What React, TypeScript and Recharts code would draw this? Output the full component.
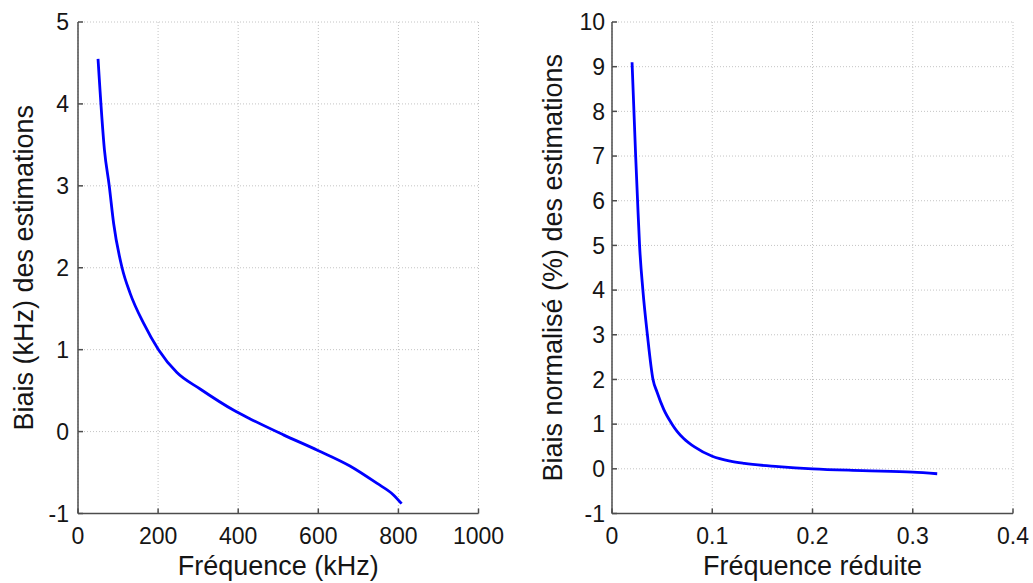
import { CartesianGrid, Label, Line, LineChart, XAxis, YAxis } from 'recharts';

// panneau gauche : biais en kHz
const freqKhz = [50, 66, 78, 89, 110, 130, 164, 201, 247, 305, 389, 430, 513, 599, 679, 746, 787, 808];
const biasKhz = [4.55, 3.44, 3.0, 2.54, 2.0, 1.69, 1.32, 1.0, 0.72, 0.52, 0.26, 0.155, -0.04, -0.23, -0.42, -0.63, -0.77, -0.88];

// panneau droit : biais normalisé (%)
const freqReduite = [0.02, 0.0236, 0.0255, 0.0275, 0.0308, 0.0353, 0.0409, 0.0449, 0.0516, 0.0599, 0.0649, 0.0715, 0.0823, 0.1, 0.118, 0.132, 0.166, 0.2, 0.25, 0.3, 0.3244];
const biasNorm = [9.1, 7.0, 6.0, 5.0, 4.0, 3.0, 2.0, 1.72, 1.33, 1.0, 0.84, 0.68, 0.49, 0.28, 0.17, 0.12, 0.05, 0.0, -0.04, -0.075, -0.11];

const xTicksLeft = [0, 200, 400, 600, 800, 1000];
const yTicksLeft = [-1, 0, 1, 2, 3, 4, 5];
const xTicksRight = [0, 0.1, 0.2, 0.3, 0.4];
const yTicksRight = [-1, 0, 1, 2, 3, 4, 5, 6, 7, 8, 9, 10];

const FONT = '"Liberation Sans", Arial, sans-serif';
const AXIS = '#4d4d4d';
const TEXT = '#151515';

function XTick({ x, y, payload }: any) {
  return (
    <g>
      <line x1={x} y1={y} x2={x} y2={y - 5} stroke={AXIS} strokeWidth={1.5} />
      <text x={x} y={y + 30} textAnchor="middle" fontSize={23} fontFamily={FONT} fill={TEXT}>
        {payload.value}
      </text>
    </g>
  );
}

function makeYTick(gap: number) {
  return function YTick({ x, y, payload }: any) {
    return (
      <g>
        <line x1={x} y1={y} x2={x + 5} y2={y} stroke={AXIS} strokeWidth={1.5} />
        <text x={x - gap} y={y} dy="0.36em" textAnchor="end" fontSize={23} fontFamily={FONT} fill={TEXT}>
          {payload.value}
        </text>
      </g>
    );
  };
}

interface PanelProps {
  xs: number[];
  ys: number[];
  xTicks: number[];
  yTicks: number[];
  xTitle: string;
  yTitle: string;
  width: number;
  axisWidth: number;
  rightMargin: number;
  tickGap: number;
  titleOffset: number;
}

function Panel({ xs, ys, xTicks, yTicks, xTitle, yTitle, width, axisWidth, rightMargin, tickGap, titleOffset }: PanelProps) {
  const data = xs.map((x, i) => ({ x, y: ys[i] }));
  return (
    <LineChart width={width} height={583} data={data} margin={{ top: 22, right: rightMargin, bottom: 0, left: 0 }}>
      <CartesianGrid stroke="#c4c4c4" strokeDasharray="1 2" />
      <XAxis
        type="number"
        dataKey="x"
        domain={[xTicks[0], xTicks[xTicks.length - 1]]}
        ticks={xTicks}
        height={69.5}
        tickSize={0}
        tickMargin={0}
        tick={<XTick />}
        axisLine={{ stroke: AXIS, strokeWidth: 1.5 }}
        interval={0}
      >
        <Label value={xTitle} position="insideBottom" offset={8} style={{ fontSize: 27, fontFamily: FONT, fill: TEXT }} />
      </XAxis>
      <YAxis
        type="number"
        domain={[yTicks[0], yTicks[yTicks.length - 1]]}
        ticks={yTicks}
        width={axisWidth}
        tickSize={0}
        tickMargin={0}
        tick={makeYTick(tickGap)}
        axisLine={{ stroke: AXIS, strokeWidth: 1.5 }}
        interval={0}
      >
        <Label
          value={yTitle}
          angle={-90}
          position="insideLeft"
          offset={titleOffset}
          style={{ textAnchor: 'middle', fontSize: 27, fontFamily: FONT, fill: TEXT }}
        />
      </YAxis>
      <Line type="monotone" dataKey="y" stroke="#0000ff" strokeWidth={2.8} dot={false} isAnimationActive={false} />
    </LineChart>
  );
}

export default function App() {
  return (
    <div style={{ position: 'absolute', top: 0, left: 0, width: 1033, height: 583, background: '#fff' }}>
      <div style={{ position: 'absolute', left: 0, top: 0 }}>
        <Panel
          xs={freqKhz}
          ys={biasKhz}
          xTicks={xTicksLeft}
          yTicks={yTicksLeft}
          xTitle="Fréquence (kHz)"
          yTitle="Biais (kHz) des estimations"
          width={530}
          axisWidth={78}
          rightMargin={51.5}
          tickGap={9}
          titleOffset={23}
        />
      </div>
      <div style={{ position: 'absolute', left: 530, top: 0 }}>
        <Panel
          xs={freqReduite}
          ys={biasNorm}
          xTicks={xTicksRight}
          yTicks={yTicksRight}
          xTitle="Fréquence réduite"
          yTitle="Biais normalisé (%) des estimations"
          width={503}
          axisWidth={82}
          rightMargin={20}
          tickGap={7}
          titleOffset={22}
        />
      </div>
    </div>
  );
}
